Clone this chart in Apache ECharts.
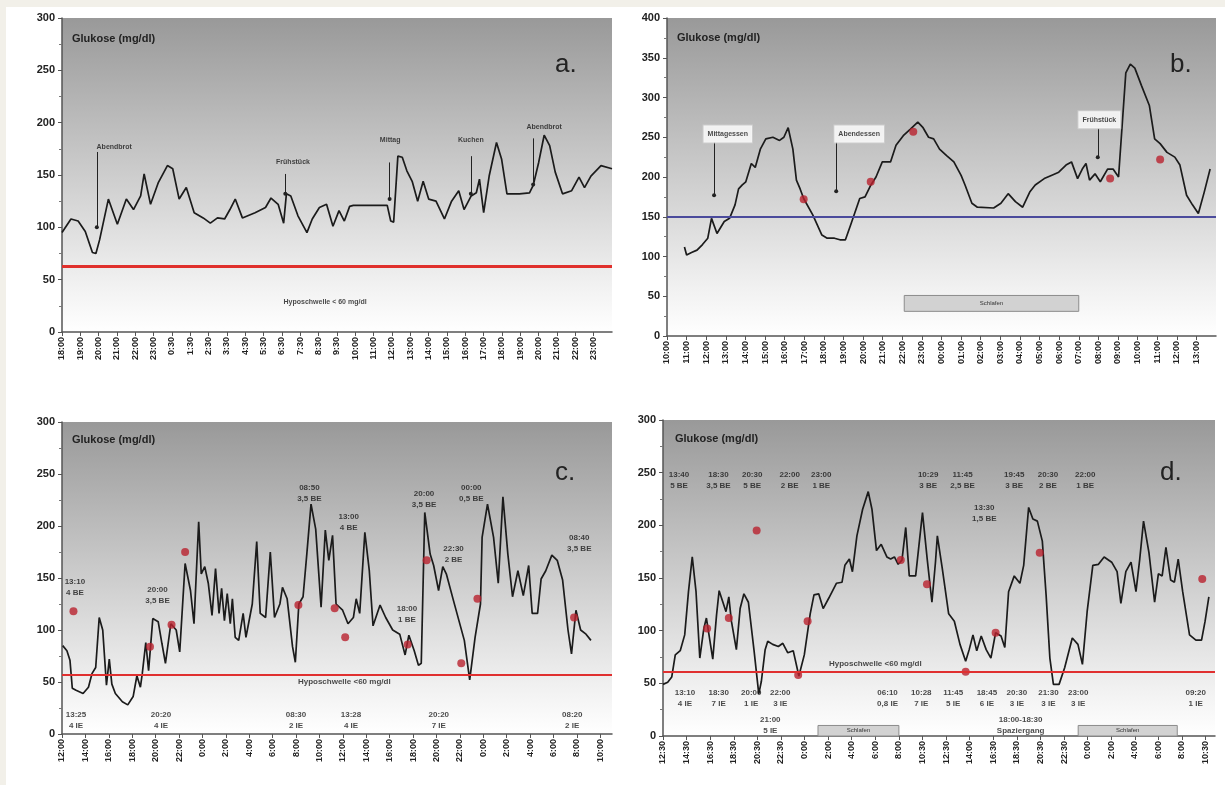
<!DOCTYPE html>
<html>
<head>
<meta charset="utf-8">
<script src="https://cdn.jsdelivr.net/npm/echarts@6/dist/echarts.min.js"></script>
<style>
  html, body { margin: 0; padding: 0; background: #fff; }
  #chart { width: 1225px; height: 785px; }
</style>
</head>
<body>
<div id="chart"></div>
<script>
// x tick labels per panel (one label per tick unit)
const ticksA = ['18:00', '19:00', '20:00', '21:00', '22:00', '23:00', '0:30', '1:30', '2:30', '3:30', '4:30', '5:30', '6:30', '7:30', '8:30', '9:30',
  '10:00', '11:00', '12:00', '13:00', '14:00', '15:00', '16:00', '17:00', '18:00', '19:00', '20:00', '21:00', '22:00', '23:00']
const ticksB = ['10:00', '11:00', '12:00', '13:00', '14:00', '15:00', '16:00', '17:00', '18:00', '19:00', '20:00', '21:00', '22:00', '23:00',
  '00:00', '01:00', '02:00', '03:00', '04:00', '05:00', '06:00', '07:00', '08:00', '09:00', '10:00', '11:00', '12:00', '13:00']
const ticksC = ['12:00', '14:00', '16:00', '18:00', '20:00', '22:00', '0:00', '2:00', '4:00', '6:00', '8:00', '10:00',
  '12:00', '14:00', '16:00', '18:00', '20:00', '22:00', '0:00', '2:00', '4:00', '6:00', '8:00', '10:00']
const ticksD = ['12:30', '14:30', '16:30', '18:30', '20:30', '22:30', '0:00', '2:00', '4:00', '6:00', '8:00', '10:30',
  '12:30', '14:00', '16:30', '18:30', '20:30', '22:30', '0:00', '2:00', '4:00', '6:00', '8:00', '10:30']

// glucose curves: [position in tick units, mg/dl]
const lineA = [[0, 95], [0.49, 108], [0.88, 106], [1.27, 96], [1.66, 76], [1.85, 75], [2.05, 88], [2.53, 127], [3.02, 103], [3.51, 127],
  [3.9, 117], [4.29, 130], [4.48, 151], [4.83, 122], [5.26, 143], [5.75, 159], [6.04, 156], [6.39, 127], [6.78, 138], [7.21, 114],
  [7.7, 109], [8.09, 104], [8.48, 109], [8.87, 108], [9.16, 117], [9.45, 127], [9.84, 109], [10.53, 114], [11.1, 119], [11.4, 128],
  [11.79, 122], [12.09, 104], [12.24, 132], [12.48, 130], [12.87, 111], [13.36, 95], [13.65, 108], [14.04, 119], [14.43, 122], [14.78, 101],
  [15.11, 116], [15.4, 106], [15.69, 120], [15.89, 121], [17.74, 121], [17.93, 106], [18.09, 105], [18.32, 168], [18.56, 167], [18.81, 154],
  [19.1, 144], [19.4, 125], [19.7, 144], [20.0, 127], [20.4, 125], [20.86, 108], [21.25, 125], [21.64, 135], [21.93, 117], [22.32, 130],
  [22.6, 133], [22.77, 146], [23.0, 114], [23.3, 149], [23.7, 181], [23.98, 165], [24.27, 132], [24.95, 132], [25.5, 133], [25.7, 140],
  [26.0, 162], [26.3, 188], [26.6, 178], [26.9, 153], [27.3, 132], [27.8, 135], [28.2, 148], [28.5, 138], [28.85, 149], [29.4, 159], [30, 156]]

const lineB = [[0.89, 112], [1.0, 102], [1.25, 105], [1.53, 108], [1.81, 115], [2.08, 123], [2.27, 148], [2.55, 129], [2.92, 144], [3.19, 148],
  [3.47, 165], [3.65, 185], [3.84, 190], [4.02, 194], [4.3, 217], [4.5, 212], [4.76, 235], [5.04, 248], [5.4, 250], [5.74, 246],
  [5.96, 250], [6.18, 262], [6.42, 235], [6.6, 196], [6.79, 185], [6.97, 173], [7.44, 152], [7.9, 127], [8.17, 123], [8.54, 123],
  [8.82, 121], [9.1, 121], [9.37, 140], [9.83, 173], [10.1, 175], [10.4, 190], [10.66, 200], [10.98, 219], [11.4, 219], [11.68, 240],
  [12.05, 252], [12.4, 260], [12.79, 269], [13.06, 262], [13.34, 250], [13.6, 248], [13.9, 235], [14.26, 227], [14.63, 219], [15.0, 202],
  [15.2, 190], [15.55, 167], [15.83, 162], [16.66, 161], [17.03, 167], [17.4, 179], [17.77, 169], [18.14, 162], [18.5, 181], [18.78, 190],
  [19.24, 198], [19.6, 202], [19.98, 206], [20.35, 215], [20.63, 219], [20.94, 198], [21.18, 210], [21.37, 217], [21.55, 196], [21.83, 204],
  [22.1, 194], [22.47, 210], [22.75, 210], [23.03, 200], [23.2, 260], [23.4, 331], [23.63, 342], [23.86, 337], [24.2, 315], [24.6, 290],
  [24.87, 248], [25.15, 242], [25.5, 231], [25.9, 225], [26.16, 215], [26.5, 177], [26.8, 165], [27.1, 154], [27.4, 181], [27.7, 210]]

const lineC = [[0.03, 85], [0.21, 80], [0.34, 71], [0.44, 44], [0.6, 42], [0.9, 39], [1.13, 45], [1.28, 58], [1.44, 64], [1.59, 112],
  [1.74, 100], [1.9, 47], [2.02, 72], [2.13, 48], [2.28, 39], [2.58, 31], [2.81, 28], [3.04, 36], [3.2, 56], [3.35, 45],
  [3.43, 58], [3.58, 88], [3.7, 61], [3.88, 111], [4.11, 108], [4.27, 87], [4.42, 68], [4.65, 106], [4.88, 100], [5.03, 79],
  [5.26, 164], [5.49, 138], [5.64, 106], [5.84, 204], [5.95, 154], [6.1, 161], [6.25, 145], [6.41, 114], [6.56, 159], [6.71, 116],
  [6.82, 140], [6.94, 109], [7.06, 135], [7.19, 106], [7.28, 130], [7.4, 93], [7.55, 90], [7.74, 116], [7.86, 93], [8.13, 125],
  [8.32, 185], [8.47, 116], [8.7, 112], [8.9, 175], [9.08, 112], [9.31, 125], [9.42, 141], [9.62, 130], [9.85, 84], [9.97, 69],
  [10.12, 125], [10.3, 132], [10.46, 173], [10.64, 221], [10.84, 197], [11.07, 122], [11.25, 196], [11.4, 167], [11.56, 191], [11.71, 125],
  [11.99, 119], [12.22, 106], [12.45, 112], [12.57, 130], [12.72, 116], [12.94, 194], [13.13, 157], [13.29, 104], [13.59, 124], [13.83, 112],
  [14.13, 100], [14.43, 96], [14.66, 76], [14.82, 95], [15.05, 80], [15.23, 66], [15.35, 68], [15.5, 213], [15.73, 173], [15.88, 162],
  [16.09, 138], [16.27, 161], [16.42, 154], [16.73, 128], [16.96, 109], [17.19, 90], [17.42, 52], [17.65, 93], [17.88, 125], [17.95, 189],
  [18.18, 221], [18.44, 189], [18.64, 145], [18.84, 228], [19.05, 173], [19.25, 132], [19.48, 157], [19.71, 133], [19.94, 162], [20.09, 116],
  [20.32, 116], [20.47, 149], [20.67, 157], [20.93, 172], [21.16, 167], [21.39, 148], [21.62, 100], [21.77, 77], [21.96, 119], [22.16, 100],
  [22.39, 96], [22.6, 90]]

const lineD = [[0, 49], [0.2, 51], [0.37, 56], [0.52, 77], [0.73, 81], [0.92, 96], [1.08, 137], [1.24, 170], [1.4, 137], [1.56, 74],
  [1.73, 102], [1.84, 112], [1.95, 96], [2.11, 73], [2.27, 115], [2.38, 138], [2.54, 127], [2.67, 118], [2.79, 132], [2.9, 109],
  [3.11, 82], [3.27, 121], [3.43, 135], [3.62, 127], [3.86, 81], [4.06, 40], [4.17, 52], [4.33, 82], [4.44, 90], [4.65, 87],
  [4.89, 85], [5.08, 88], [5.29, 79], [5.52, 81], [5.76, 57], [5.99, 77], [6.24, 116], [6.4, 134], [6.6, 135], [6.79, 121],
  [7.03, 131], [7.35, 145], [7.59, 146], [7.71, 162], [7.9, 168], [8.03, 156], [8.22, 190], [8.46, 215], [8.7, 232], [8.86, 215],
  [9.05, 176], [9.25, 182], [9.49, 170], [9.65, 168], [9.81, 170], [9.97, 163], [10.13, 167], [10.29, 198], [10.44, 152], [10.71, 152],
  [11.0, 212], [11.2, 168], [11.4, 127], [11.55, 165], [11.63, 190], [11.84, 159], [12.11, 116], [12.35, 109], [12.59, 87], [12.83, 71],
  [12.98, 82], [13.14, 96], [13.3, 81], [13.49, 95], [13.7, 82], [13.9, 74], [14.1, 98], [14.33, 95], [14.49, 84], [14.65, 137],
  [14.89, 152], [15.13, 145], [15.29, 162], [15.5, 217], [15.68, 206], [15.87, 204], [16.08, 185], [16.24, 134], [16.4, 74], [16.55, 49],
  [16.79, 49], [17.03, 65], [17.35, 93], [17.59, 87], [17.78, 68], [17.98, 118], [18.22, 162], [18.46, 163], [18.7, 170], [19.02, 165],
  [19.25, 156], [19.41, 126], [19.62, 156], [19.84, 165], [20.05, 137], [20.21, 168], [20.37, 204], [20.6, 174], [20.84, 127], [21.0, 154],
  [21.16, 152], [21.32, 179], [21.52, 148], [21.68, 146], [21.84, 168], [22.03, 137], [22.32, 96], [22.59, 91], [22.83, 91], [22.98, 109], [23.14, 132]]

// red measured points
const dotsB = [[6.97, 172], [10.39, 194], [12.56, 257], [22.6, 198], [25.15, 222]]
const dotsC = [[0.49, 118], [3.76, 84], [4.68, 105], [5.26, 175], [10.1, 124], [11.65, 121], [12.1, 93], [14.77, 86], [15.58, 167],
  [17.06, 68], [17.75, 130], [21.88, 112]]
const dotsD = [[1.87, 102], [2.79, 112], [3.97, 195], [5.73, 58], [6.13, 109], [10.08, 167], [11.19, 144], [12.83, 61], [14.1, 98],
  [15.97, 174], [22.86, 149]]

// thresholds
const hypoA = 63
const limitB = 150
const hypoC = 57
const hypoD = 61

// annotations: [text, position, mg/dl]
const notesA = [['Abendbrot', 2.85, 177], ['Frühstück', 12.6, 162], ['Mittag', 17.9, 183], ['Kuchen', 22.3, 183], ['Abendbrot', 26.3, 196],
  ['Hyposchwelle < 60 mg/dl', 14.35, 29]]
const arrowsA = [[1.9, 172, 100], [12.18, 151, 132], [17.87, 162, 127], [22.3, 168, 132], [25.7, 185, 141]]

const notesB = [['Mittagessen', 3.1, 254], ['Abendessen', 9.8, 254], ['Frühstück', 22.05, 272]]
const arrowsB = [[2.4, 244, 177], [8.63, 244, 182], [21.97, 261, 225]]
const sleepB = [[12.1, 31, 21.0, 51]]

const notesC = [['13:10\n4 BE', 0.55, 141], ['20:00\n3,5 BE', 4.08, 133], ['08:50\n3,5 BE', 10.57, 231], ['13:00\n4 BE', 12.25, 204],
  ['20:00\n3,5 BE', 15.47, 226], ['00:00\n0,5 BE', 17.49, 231], ['22:30\n2 BE', 16.73, 173], ['18:00\n1 BE', 14.74, 115], ['08:40\n3,5 BE', 22.1, 183],
  ['13:25\n4 IE', 0.6, 13], ['20:20\n4 IE', 4.23, 13], ['08:30\n2 IE', 10.0, 13], ['13:28\n4 IE', 12.35, 13], ['20:20\n7 IE', 16.1, 13],
  ['08:20\n2 IE', 21.8, 13], ['Hyposchwelle <60 mg/dl', 12.06, 50]]

const notesD = [['13:40\n5 BE', 0.68, 243], ['18:30\n3,5 BE', 2.35, 243], ['20:30\n5 BE', 3.78, 243], ['22:00\n2 BE', 5.37, 243],
  ['23:00\n1 BE', 6.71, 243], ['10:29\n3 BE', 11.24, 243], ['11:45\n2,5 BE', 12.7, 243], ['19:45\n3 BE', 14.89, 243], ['20:30\n2 BE', 16.32, 243],
  ['22:00\n1 BE', 17.9, 243], ['13:30\n1,5 BE', 13.62, 211],
  ['13:10\n4 IE', 0.93, 36], ['18:30\n7 IE', 2.36, 36], ['20:00\n1 IE', 3.74, 36], ['22:00\n3 IE', 4.97, 36], ['21:00\n5 IE', 4.55, 10],
  ['06:10\n0,8 IE', 9.52, 36], ['10:28\n7 IE', 10.95, 36], ['11:45\n5 IE', 12.3, 36], ['18:45\n6 IE', 13.73, 36], ['20:30\n3 IE', 15.0, 36],
  ['21:30\n3 IE', 16.34, 36], ['23:00\n3 IE', 17.6, 36], ['09:20\n1 IE', 22.58, 36], ['18:00-18:30\nSpaziergang', 15.16, 10],
  ['Hyposchwelle <60 mg/dl', 9.0, 69]]
const sleepD = [[6.57, 0, 10.0, 10], [17.6, 0, 21.8, 10]]

const FONT = 'Liberation Sans, Arial, sans-serif'

const chart = echarts.init(document.getElementById('chart'))

const plotBg = () => new echarts.graphic.LinearGradient(0, 0, 0, 1, [
  { offset: 0, color: '#999999' },
  { offset: 0.5, color: '#cdcdcd' },
  { offset: 0.85, color: '#f1f1f1' },
  { offset: 1, color: '#ffffff' }
])

const grids = [
  { left: 62, top: 18, width: 550, height: 314 },
  { left: 667, top: 18, width: 549, height: 318 },
  { left: 62, top: 422, width: 550, height: 312 },
  { left: 663, top: 420, width: 552, height: 316 }
].map((g) => ({ ...g, show: true, backgroundColor: plotBg(), borderWidth: 0 }))

function xAxis(i, ticks, max) {
  return {
    gridIndex: i, type: 'value', min: 0, max: max, interval: 1,
    axisLine: { show: true, lineStyle: { color: '#555', width: 1.5 } },
    axisTick: { show: true, length: 4, lineStyle: { color: '#555' } },
    splitLine: { show: false },
    axisLabel: {
      rotate: 90, fontSize: 9, fontWeight: 'bold', color: '#222', margin: 5, fontFamily: FONT,
      showMaxLabel: false,
      formatter: (v) => (Number.isInteger(v) && ticks[v]) ? ticks[v] : ''
    }
  }
}

function yAxis(i, max) {
  return {
    gridIndex: i, type: 'value', min: 0, max: max, interval: 50,
    axisLine: { show: true, lineStyle: { color: '#555', width: 1.5 } },
    axisTick: { show: true, length: 4, lineStyle: { color: '#555' } },
    minorTick: { show: true, splitNumber: 2, length: 3, lineStyle: { color: '#777' } },
    splitLine: { show: false },
    axisLabel: { fontSize: 11, fontWeight: 'bold', color: '#222', margin: 7, fontFamily: FONT }
  }
}

function curve(i, data, limit, limitColor, limitWidth, sleep) {
  return {
    type: 'line', xAxisIndex: i, yAxisIndex: i, data: data, showSymbol: false, silent: true, z: 3,
    lineStyle: { color: '#1b1b1b', width: 1.7 },
    markLine: {
      silent: true, symbol: 'none', label: { show: false },
      lineStyle: { color: limitColor, width: limitWidth, type: 'solid' },
      data: [{ yAxis: limit }]
    },
    markArea: sleep ? {
      silent: true,
      itemStyle: { color: '#d2d2d2', borderColor: '#8c8c8c', borderWidth: 1 },
      label: { show: true, position: 'inside', fontSize: 6, color: '#333', fontFamily: FONT },
      data: sleep.map((s) => [{ name: 'Schlafen', coord: [s[0], s[1]] }, { coord: [s[2], s[3]] }])
    } : undefined
  }
}

function dots(i, data) {
  return {
    type: 'scatter', xAxisIndex: i, yAxisIndex: i, data: data, symbolSize: 8, silent: true, z: 4,
    itemStyle: { color: '#b9222e' }
  }
}

function notes(i, list, arrows, extra) {
  return {
    type: 'scatter', xAxisIndex: i, yAxisIndex: i, symbolSize: 1, silent: true, z: 5,
    itemStyle: { color: 'transparent' },
    data: list.map((n) => ({ name: n[0], value: [n[1], n[2]] })),
    label: Object.assign({
      show: true, position: 'inside', formatter: (p) => p.name, color: '#1a1a1a',
      fontSize: 8, fontWeight: 'bold', lineHeight: 11, fontFamily: FONT
    }, extra || {}),
    markLine: arrows ? {
      silent: true, symbol: ['none', 'circle'], symbolSize: 4, label: { show: false },
      lineStyle: { color: '#222', width: 1, type: 'solid' },
      data: arrows.map((a) => [{ coord: [a[0], a[1]] }, { coord: [a[0], a[2]] }])
    } : undefined
  }
}

const titleStyle = { fontSize: 11, fontWeight: 'bold', color: '#222', fontFamily: FONT }
const letterStyle = { fontSize: 26, fontWeight: 'normal', color: '#222', fontFamily: FONT }

const option = {
  backgroundColor: '#fff',
  animation: false,
  title: [
    { text: 'Glukose (mg/dl)', left: 72, top: 33, padding: 0, textStyle: titleStyle },
    { text: 'Glukose (mg/dl)', left: 677, top: 32, padding: 0, textStyle: titleStyle },
    { text: 'Glukose (mg/dl)', left: 72, top: 434, padding: 0, textStyle: titleStyle },
    { text: 'Glukose (mg/dl)', left: 675, top: 433, padding: 0, textStyle: titleStyle },
    { text: 'a.', left: 555, top: 52, padding: 0, textStyle: letterStyle },
    { text: 'b.', left: 1170, top: 52, padding: 0, textStyle: letterStyle },
    { text: 'c.', left: 555, top: 460, padding: 0, textStyle: letterStyle },
    { text: 'd.', left: 1160, top: 460, padding: 0, textStyle: letterStyle }
  ],
  graphic: [
    { type: 'rect', left: 0, top: 0, shape: { width: 1225, height: 7 }, style: { fill: '#f2f0e9' }, silent: true },
    { type: 'rect', left: 0, top: 0, shape: { width: 6, height: 785 }, style: { fill: '#f2f0e9' }, silent: true }
  ],
  grid: grids,
  xAxis: [xAxis(0, ticksA, 30), xAxis(1, ticksB, 28), xAxis(2, ticksC, 23.5), xAxis(3, ticksD, 23.4)],
  yAxis: [yAxis(0, 300), yAxis(1, 400), yAxis(2, 300), yAxis(3, 300)],
  series: [
    curve(0, lineA, hypoA, '#e0302c', 3),
    notes(0, notesA, arrowsA, { fontSize: 7 }),
    curve(1, lineB, limitB, '#4b4b9c', 2, sleepB),
    dots(1, dotsB),
    notes(1, notesB, arrowsB, { fontSize: 7, backgroundColor: '#ffffff', padding: [3, 4], borderColor: '#d0d0d0', borderWidth: 1 }),
    curve(2, lineC, hypoC, '#e03030', 2),
    dots(2, dotsC),
    notes(2, notesC, null),
    curve(3, lineD, hypoD, '#e03030', 2, sleepD),
    dots(3, dotsD),
    notes(3, notesD, null)
  ]
}

chart.setOption(option)
</script>
</body>
</html>
